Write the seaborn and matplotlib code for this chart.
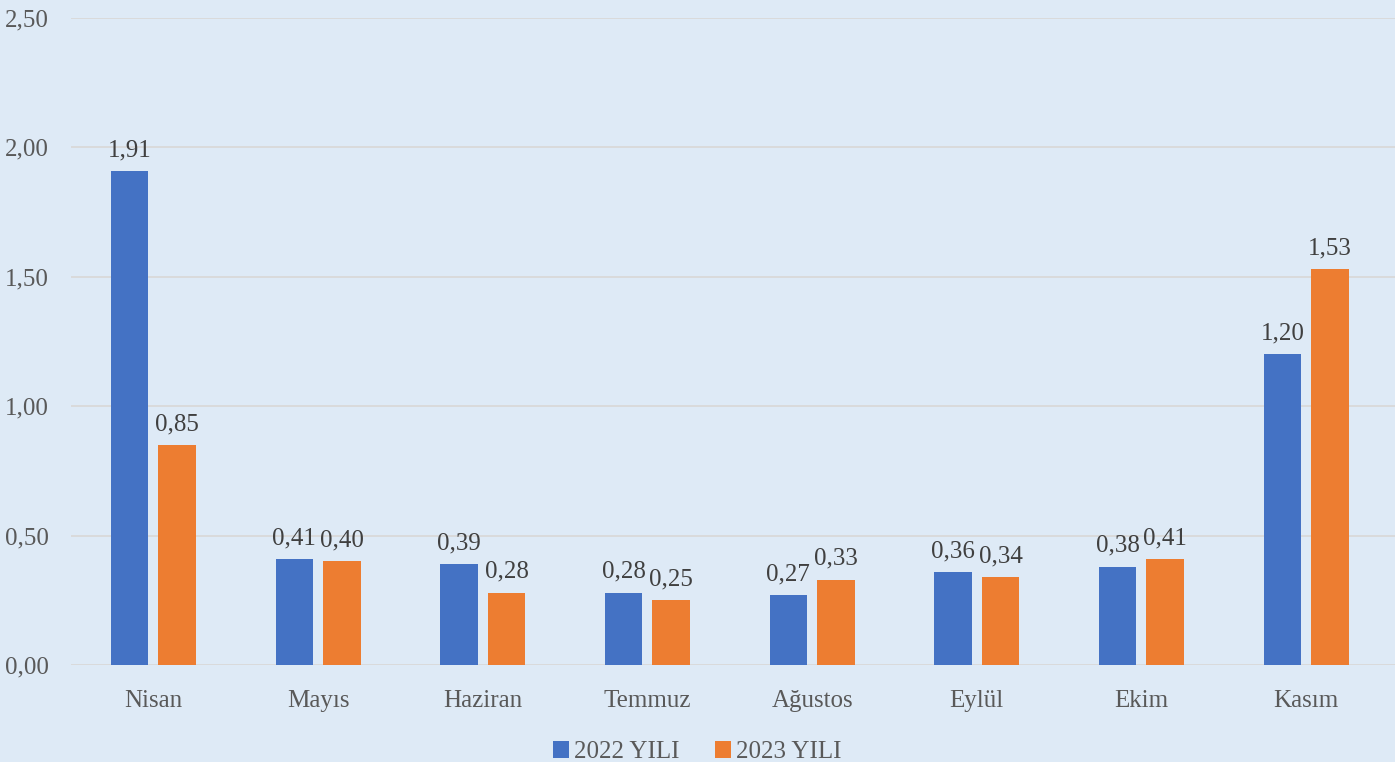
import seaborn as sns
import matplotlib.pyplot as plt
import pandas as pd

# values
months = ['Nisan', 'Mayıs', 'Haziran', 'Temmuz', 'Ağustos', 'Eylül', 'Ekim', 'Kasım']
y2022 = [1.91, 0.41, 0.39, 0.28, 0.27, 0.36, 0.38, 1.20]
y2023 = [0.85, 0.40, 0.28, 0.25, 0.33, 0.34, 0.41, 1.53]
series = ['2022 YILI', '2023 YILI']
yticks = [0.0, 0.5, 1.0, 1.5, 2.0, 2.5]

df = pd.DataFrame({
    'ay': months * 2,
    'deger': y2022 + y2023,
    'yil': [series[0]] * len(months) + [series[1]] * len(months),
})

bg = '#DEEAF6'
sns.set_style('white')
plt.rcParams['font.family'] = ['Liberation Serif', 'DejaVu Serif']

fig = plt.figure(figsize=(13.95, 7.62), dpi=100, facecolor=bg)
ax = fig.add_axes([0.051, 0.1273, 0.949, 0.849], facecolor=bg)

sns.barplot(data=df, x='ay', y='deger', hue='yil', order=months, hue_order=series,
            palette=['#4472C4', '#ED7D31'], width=0.577, gap=0.21,
            saturation=1, linewidth=0, ax=ax, zorder=3)

for cont in ax.containers:
    ax.bar_label(cont, labels=[f'{v:.2f}'.replace('.', ',') for v in cont.datavalues],
                 padding=7, fontsize=18, color='#404040')

ax.set_ylim(0, 2.5)
ax.set_xlim(-0.5, 7.54)
ax.set_yticks(yticks)
ax.set_yticklabels([f'{t:.2f}'.replace('.', ',') for t in yticks])
ax.grid(axis='y', color='#D9D9D9', linewidth=1.3, zorder=0)
ax.set_axisbelow(True)
for s in ax.spines.values():
    s.set_visible(False)
ax.tick_params(axis='both', length=0, labelsize=18, colors='#595959')
ax.tick_params(axis='y', pad=16)
ax.tick_params(axis='x', pad=18)
ax.set_xlabel('')
ax.set_ylabel('')

leg = ax.legend(loc='center', bbox_to_anchor=(697 / 1395, 10 / 762),
                bbox_transform=fig.transFigure, ncol=2, frameon=False,
                fontsize=18, handlelength=0.65, handleheight=0.65, handletextpad=0.2,
                columnspacing=1.4, labelcolor='#595959', borderpad=0)

fig.savefig('out.png', dpi=100, facecolor=bg)
